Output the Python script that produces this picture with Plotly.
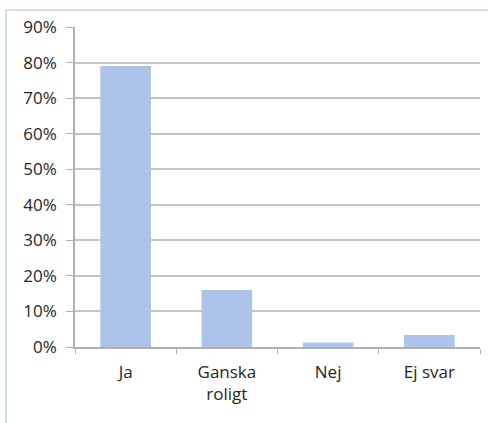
import plotly.graph_objects as go

categories = ["Ja", "Ganska<br>roligt", "Nej", "Ej svar"]
values = [0.79, 0.16, 0.013, 0.034]
y_ticks = [0, 0.1, 0.2, 0.3, 0.4, 0.5, 0.6, 0.7, 0.8, 0.9]
y_tick_labels = ["0%", "10%", "20%", "30%", "40%", "50%", "60%", "70%", "80%", "90%"]

fig = go.Figure()
fig.add_trace(go.Bar(
    x=categories, y=values,
    marker=dict(color="#aec3e9", line=dict(width=0)),
    hoverinfo="skip",
))

W, H = 488, 423
L, R, T, B = 75, 8, 27, 76
pw, ph = W - L - R, H - T - B
bx = (6 - L) / pw
by = (H - B - 10) / ph

fig.update_layout(
    width=W, height=H,
    margin=dict(l=L, r=R, t=T, b=B),
    paper_bgcolor="white", plot_bgcolor="white",
    bargap=0.5,
    showlegend=False,
    font=dict(family="Open Sans, Lato, sans-serif", size=17, color="#262626"),
    xaxis=dict(
        showline=True, linecolor="#b0b0b0", linewidth=1.5,
        ticks="outside", tickson="boundaries", ticklen=5, tickcolor="#b0b0b0",
        showgrid=False, tickfont=dict(size=17), ticklabelstandoff=9,
    ),
    yaxis=dict(
        range=[0, 0.9], tickvals=y_ticks, ticktext=y_tick_labels,
        showline=True, linecolor="#b0b0b0", linewidth=1.5,
        ticks="outside", ticklen=7, tickcolor="#b0b0b0",
        showgrid=True, gridcolor="#c4c4c4", gridwidth=1.5,
        zeroline=False, tickfont=dict(size=17), ticklabelstandoff=6,
    ),
    shapes=[
        dict(type="line", xref="paper", yref="paper", x0=bx, x1=1.2, y0=by, y1=by,
             line=dict(color="#bcd3f2", width=1.5)),
        dict(type="line", xref="paper", yref="paper", x0=bx, x1=bx, y0=by, y1=-0.5,
             line=dict(color="#bcd3f2", width=1.5)),
    ],
)

fig.write_html(
    "out.html",
    config={"displayModeBar": False},
    post_script="document.body.style.margin='0';document.body.style.overflow='hidden';",
)
